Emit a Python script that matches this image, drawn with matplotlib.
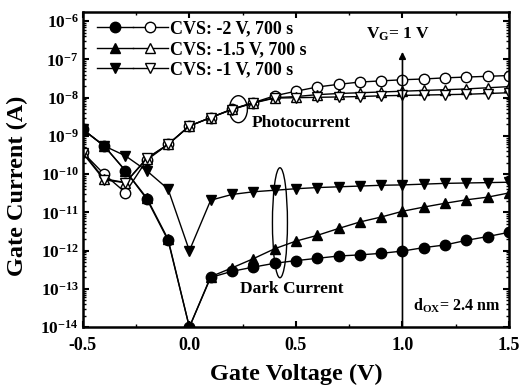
import matplotlib
matplotlib.use("Agg")
import matplotlib.pyplot as plt
import numpy as np
from matplotlib.legend_handler import HandlerTuple
from matplotlib.patches import Ellipse
from matplotlib.ticker import MultipleLocator, LogLocator, FuncFormatter, NullFormatter

plt.rcParams['font.family'] = ['Liberation Serif', 'DejaVu Serif']
plt.rcParams['font.weight'] = 'bold'
plt.rcParams['mathtext.fontset'] = 'custom'
plt.rcParams['mathtext.rm'] = 'Liberation Serif:bold'
plt.rcParams['mathtext.it'] = 'Liberation Serif:bold'
plt.rcParams['mathtext.bf'] = 'Liberation Serif:bold'
plt.rcParams['mathtext.default'] = 'rm'

# 1. DATA (log10 of gate current in A)
v_gate = [-0.5, -0.4, -0.3, -0.2, -0.1, 0.0, 0.1, 0.2, 0.3, 0.4, 0.5,
          0.6, 0.7, 0.8, 0.9, 1.0, 1.1, 1.2, 1.3, 1.4, 1.5]

dark_2v = [-8.83, -9.26, -9.91, -10.65, -11.73, -14.0, -12.70, -12.54, -12.43, -12.33, -12.26,
           -12.20, -12.14, -12.11, -12.07, -12.01, -11.92, -11.85, -11.73, -11.63, -11.52]
dark_15v = [-8.83, -9.26, -9.91, -10.62, -11.70, -14.0, -12.68, -12.45, -12.21, -11.95, -11.75,
            -11.60, -11.42, -11.25, -11.12, -10.97, -10.86, -10.76, -10.67, -10.60, -10.49]
dark_1v = [-8.83, -9.26, -9.52, -9.91, -10.39, -12.0, -10.68, -10.53, -10.46, -10.42, -10.38,
           -10.35, -10.33, -10.31, -10.29, -10.28, -10.26, -10.24, -10.23, -10.22, -10.21]

photo_2v = [-9.43, -10.0, -10.48, -9.63, -9.22, -8.74, -8.52, -8.30, -8.13, -7.95, -7.83,
            -7.72, -7.65, -7.59, -7.56, -7.53, -7.51, -7.48, -7.46, -7.44, -7.42]
photo_15v = [-9.43, -10.12, -10.22, -9.60, -9.22, -8.74, -8.52, -8.30, -8.13, -8.00, -7.97,
             -7.92, -7.89, -7.87, -7.85, -7.83, -7.81, -7.79, -7.77, -7.74, -7.71]
photo_1v = [-9.45, -10.15, -10.22, -9.58, -9.22, -8.74, -8.52, -8.31, -8.14, -8.01, -8.00,
            -7.99, -7.98, -7.97, -7.95, -7.94, -7.93, -7.92, -7.91, -7.89, -7.87]

labels = ['CVS: -2 V, 700 s', 'CVS: -1.5 V, 700 s', 'CVS: -1 V, 700 s']
markers = ['o', '^', 'v']

# 2. FIGUR
fig = plt.figure(figsize=(5.21, 3.89), dpi=100)
ax = fig.add_axes([0.159, 0.159, 0.818, 0.81])

v = np.array(v_gate)
handles = []
for dark, photo, m in zip([dark_2v, dark_15v, dark_1v], [photo_2v, photo_15v, photo_1v], markers):
    h1, = ax.plot(v, 10 ** np.array(dark), color='k', lw=1.0, marker=m, ms=7.5,
                  mfc='k', mec='k')
    h2, = ax.plot(v, 10 ** np.array(photo), color='k', lw=1.0, marker=m, ms=7.5,
                  mfc='white', mec='k', mew=1.0)
    handles.append((h1, h2))

ax.set_yscale('log')
ax.set_xlim(-0.5, 1.5)
ax.set_ylim(1e-14, 10 ** -5.76)

ax.xaxis.set_major_locator(MultipleLocator(0.5))
ax.xaxis.set_minor_locator(MultipleLocator(0.25))
ax.xaxis.set_major_formatter(FuncFormatter(lambda x, p: f"{x:.1f}"))
ax.yaxis.set_major_locator(LogLocator(base=10, numticks=20))
ax.yaxis.set_minor_locator(LogLocator(base=10, subs=np.arange(2, 10), numticks=20))
ax.yaxis.set_major_formatter(FuncFormatter(lambda y, p: r'$\mathbf{10^{%d}}$' % round(np.log10(y))))
ax.yaxis.set_minor_formatter(NullFormatter())

ax.tick_params(which='both', direction='in', top=True, right=True)
ax.tick_params(axis='x', labelsize=13, pad=7)
ax.tick_params(axis='y', labelsize=12.5, pad=3)
ax.tick_params(which='major', length=4, width=1.5)
ax.tick_params(which='minor', length=2.5, width=1.0)
for s in ax.spines.values():
    s.set_linewidth(1.8)

ax.set_xlabel('Gate Voltage (V)', fontsize=17.5, fontweight='bold')
ax.set_ylabel('Gate Current (A)', fontsize=17.5, fontweight='bold')
ax.xaxis.set_label_coords(0.5, -0.115)
ax.yaxis.set_label_coords(-0.129, 0.45)

leg = ax.legend(handles, labels, handler_map={tuple: HandlerTuple(ndivide=None, pad=0)},
                loc='upper left', frameon=False, fontsize=13, handlelength=3.9,
                handletextpad=0.15, labelspacing=0.2, borderaxespad=0, borderpad=0.4,
                bbox_to_anchor=(0.017, 0.997))

# 3. ANNOTATIONER
ax.annotate('', xy=(1.0, 10 ** -6.8), xytext=(1.0, 1e-14),
            arrowprops=dict(arrowstyle='-|>', color='k', lw=1.2, mutation_scale=10,
                            shrinkA=0, shrinkB=0))
ax.text(0.98, 10 ** -6.34, r'V$_{\mathregular{G}}$= 1 V', ha='center', va='center', fontsize=12.5)
ax.text(0.525, 10 ** -8.66, 'Photocurrent', ha='center', va='center', fontsize=12.5)
ax.text(0.48, 10 ** -13.01, 'Dark Current', ha='center', va='center', fontsize=12.5)
ax.text(1.46, 10 ** -13.45, r'd$_{\mathregular{OX}}$= 2.4 nm', ha='right', va='center', fontsize=11.5)

fig.canvas.draw()
to_axes = ax.transData + ax.transAxes.inverted()
for cx, cy, w_px, h_px in [(0.23, 10 ** -8.3, 18, 27), (0.425, 10 ** -11.27, 15, 110)]:
    ax_xy = to_axes.transform((cx, cy))
    bbox = ax.get_window_extent()
    ax.add_patch(Ellipse(ax_xy, w_px / bbox.width, h_px / bbox.height,
                         transform=ax.transAxes, fill=False, ec='k', lw=1.0))

fig.savefig('out.png', dpi=100)
